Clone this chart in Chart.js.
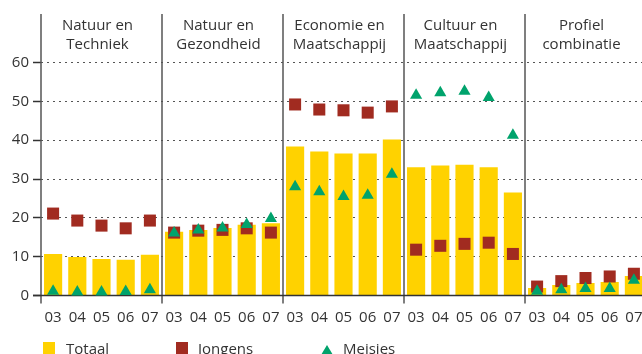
<!DOCTYPE html>
<html>
<head>
<meta charset="utf-8">
<script src="https://cdn.jsdelivr.net/npm/chart.js@4.4.1/dist/chart.umd.min.js"></script>
<style>
  html, body { margin: 0; padding: 0; background: #fff; }
  #wrap { position: relative; width: 642px; height: 354px; overflow: hidden; font-family: "Open Sans", sans-serif; color: #333; }
  #chart { position: absolute; left: 0; top: 0; }
  .lg { position: absolute; top: 339px; font-size: 15px; line-height: 18px; white-space: nowrap; }
  .sw { position: absolute; width: 12px; height: 12px; top: 342px; }
  .tri { position: absolute; top: 345px; width: 0; height: 0; border-left: 6px solid transparent; border-right: 6px solid transparent; border-bottom: 10px solid #00a36c; }
</style>
</head>
<body>
<div id="wrap">
  <canvas id="chart" width="660" height="354"></canvas>
  <div class="sw" style="left:43px;background:#ffd200"></div><div class="lg" style="left:66px">Totaal</div>
  <div class="sw" style="left:176px;background:#a12b20"></div><div class="lg" style="left:198px">Jongens</div>
  <div class="tri" style="left:321px"></div><div class="lg" style="left:343px">Meisjes</div>
</div>
<script>
// profielen per jaar (percentages)
const groups = [
  ["Natuur en", "Techniek"],
  ["Natuur en", "Gezondheid"],
  ["Economie en", "Maatschappij"],
  ["Cultuur en", "Maatschappij"],
  ["Profiel", "combinatie"]
];
const years = ["03", "04", "05", "06", "07"];

const totaal = [
  10.7, 9.9, 9.4, 9.2, 10.5,
  16.4, 16.9, 17.4, 18.2, 18.6,
  38.4, 37.1, 36.6, 36.6, 40.2,
  33.0, 33.5, 33.7, 33.0, 26.5,
  1.9, 2.7, 3.2, 3.5, 5.0
];
const jongens = [
  21.1, 19.3, 18.0, 17.3, 19.3,
  16.2, 16.7, 16.9, 17.3, 16.2,
  49.2, 47.9, 47.7, 47.1, 48.7,
  11.8, 12.8, 13.3, 13.6, 10.7,
  2.3, 3.7, 4.5, 4.9, 5.6
];
const meisjes = [
  1.1, 0.9, 0.9, 1.0, 1.5,
  16.1, 16.9, 17.4, 18.3, 19.8,
  28.0, 26.7, 25.5, 25.8, 31.2,
  51.6, 52.2, 52.6, 51.0, 41.3,
  1.1, 1.5, 1.8, 1.8, 3.9
];
const yTicks = [0, 10, 20, 30, 40, 50, 60];
const yMax = 72.5;

const labels = groups.flatMap(() => years);
const FONT = '"Open Sans", sans-serif';

// panel dividers, panel titles and the solid zero line
const panels = {
  id: "panels",
  beforeDatasetsDraw(chart) {
    const { ctx, chartArea, scales: { x, y } } = chart;
    const step = x.getPixelForValue(1) - x.getPixelForValue(0);
    const bottom = y.getPixelForValue(0) + 8;
    ctx.save();
    ctx.font = "15px " + FONT;
    ctx.textAlign = "center";
    ctx.textBaseline = "middle";
    groups.forEach((g, i) => {
      const left = x.getPixelForValue(i * years.length) - step / 2;
      ctx.strokeStyle = "#555";
      ctx.lineWidth = 1.5;
      ctx.beginPath();
      ctx.moveTo(left, chartArea.top);
      ctx.lineTo(left, bottom);
      ctx.stroke();
      const mid = left + step * years.length / 2 - 4;
      ctx.fillStyle = "#333";
      g.forEach((line, j) => ctx.fillText(line, mid, chartArea.top + 12 + j * 19));
    });
    ctx.restore();
  },
  afterDatasetDraw(chart, args) {
    if (args.index !== 0) return;
    const { ctx, chartArea, scales: { y } } = chart;
    const y0 = y.getPixelForValue(0);
    ctx.save();
    ctx.strokeStyle = "#333";
    ctx.lineWidth = 1.5;
    ctx.beginPath();
    ctx.moveTo(chartArea.left - 8, y0);
    ctx.lineTo(chartArea.right, y0);
    ctx.stroke();
    ctx.restore();
  }
};

new Chart(document.getElementById("chart"), {
  type: "bar",
  data: {
    labels: labels,
    datasets: [
      {
        label: "Totaal",
        data: totaal,
        backgroundColor: "#ffd200",
        barPercentage: 0.75,
        categoryPercentage: 1,
        order: 3
      },
      {
        type: "line",
        label: "Jongens",
        data: jongens,
        showLine: false,
        pointStyle: "rect",
        pointRadius: 8.5,
        pointBackgroundColor: "#a12b20",
        pointBorderWidth: 0,
        clip: false,
        order: 2
      },
      {
        type: "line",
        label: "Meisjes",
        data: meisjes,
        showLine: false,
        pointStyle: "triangle",
        pointRadius: 7,
        pointBackgroundColor: "#00a36c",
        pointBorderWidth: 0,
        clip: false,
        order: 1
      }
    ]
  },
  options: {
    responsive: false,
    animation: false,
    layout: { padding: { top: 14, right: 14, bottom: 14.5, left: 0 } },
    plugins: { legend: { display: false }, tooltip: { enabled: false } },
    scales: {
      x: {
        grid: { display: false, drawTicks: false },
        border: { display: false },
        ticks: { padding: 13, color: "#333", autoSkip: false, maxRotation: 0, font: { family: FONT, size: 15 } }
      },
      y: {
        min: 0,
        max: yMax,
        afterFit(s) { s.width = 41; },
        afterBuildTicks(s) { s.ticks = yTicks.map(v => ({ value: v })); },
        grid: { color: "#555", lineWidth: 1, tickLength: 8, tickColor: "#333", tickWidth: 1.5 },
        border: { display: false, dash: [2, 4] },
        ticks: { padding: 4, color: "#333", font: { family: FONT, size: 15 } }
      }
    }
  },
  plugins: [panels]
});
</script>
</body>
</html>
